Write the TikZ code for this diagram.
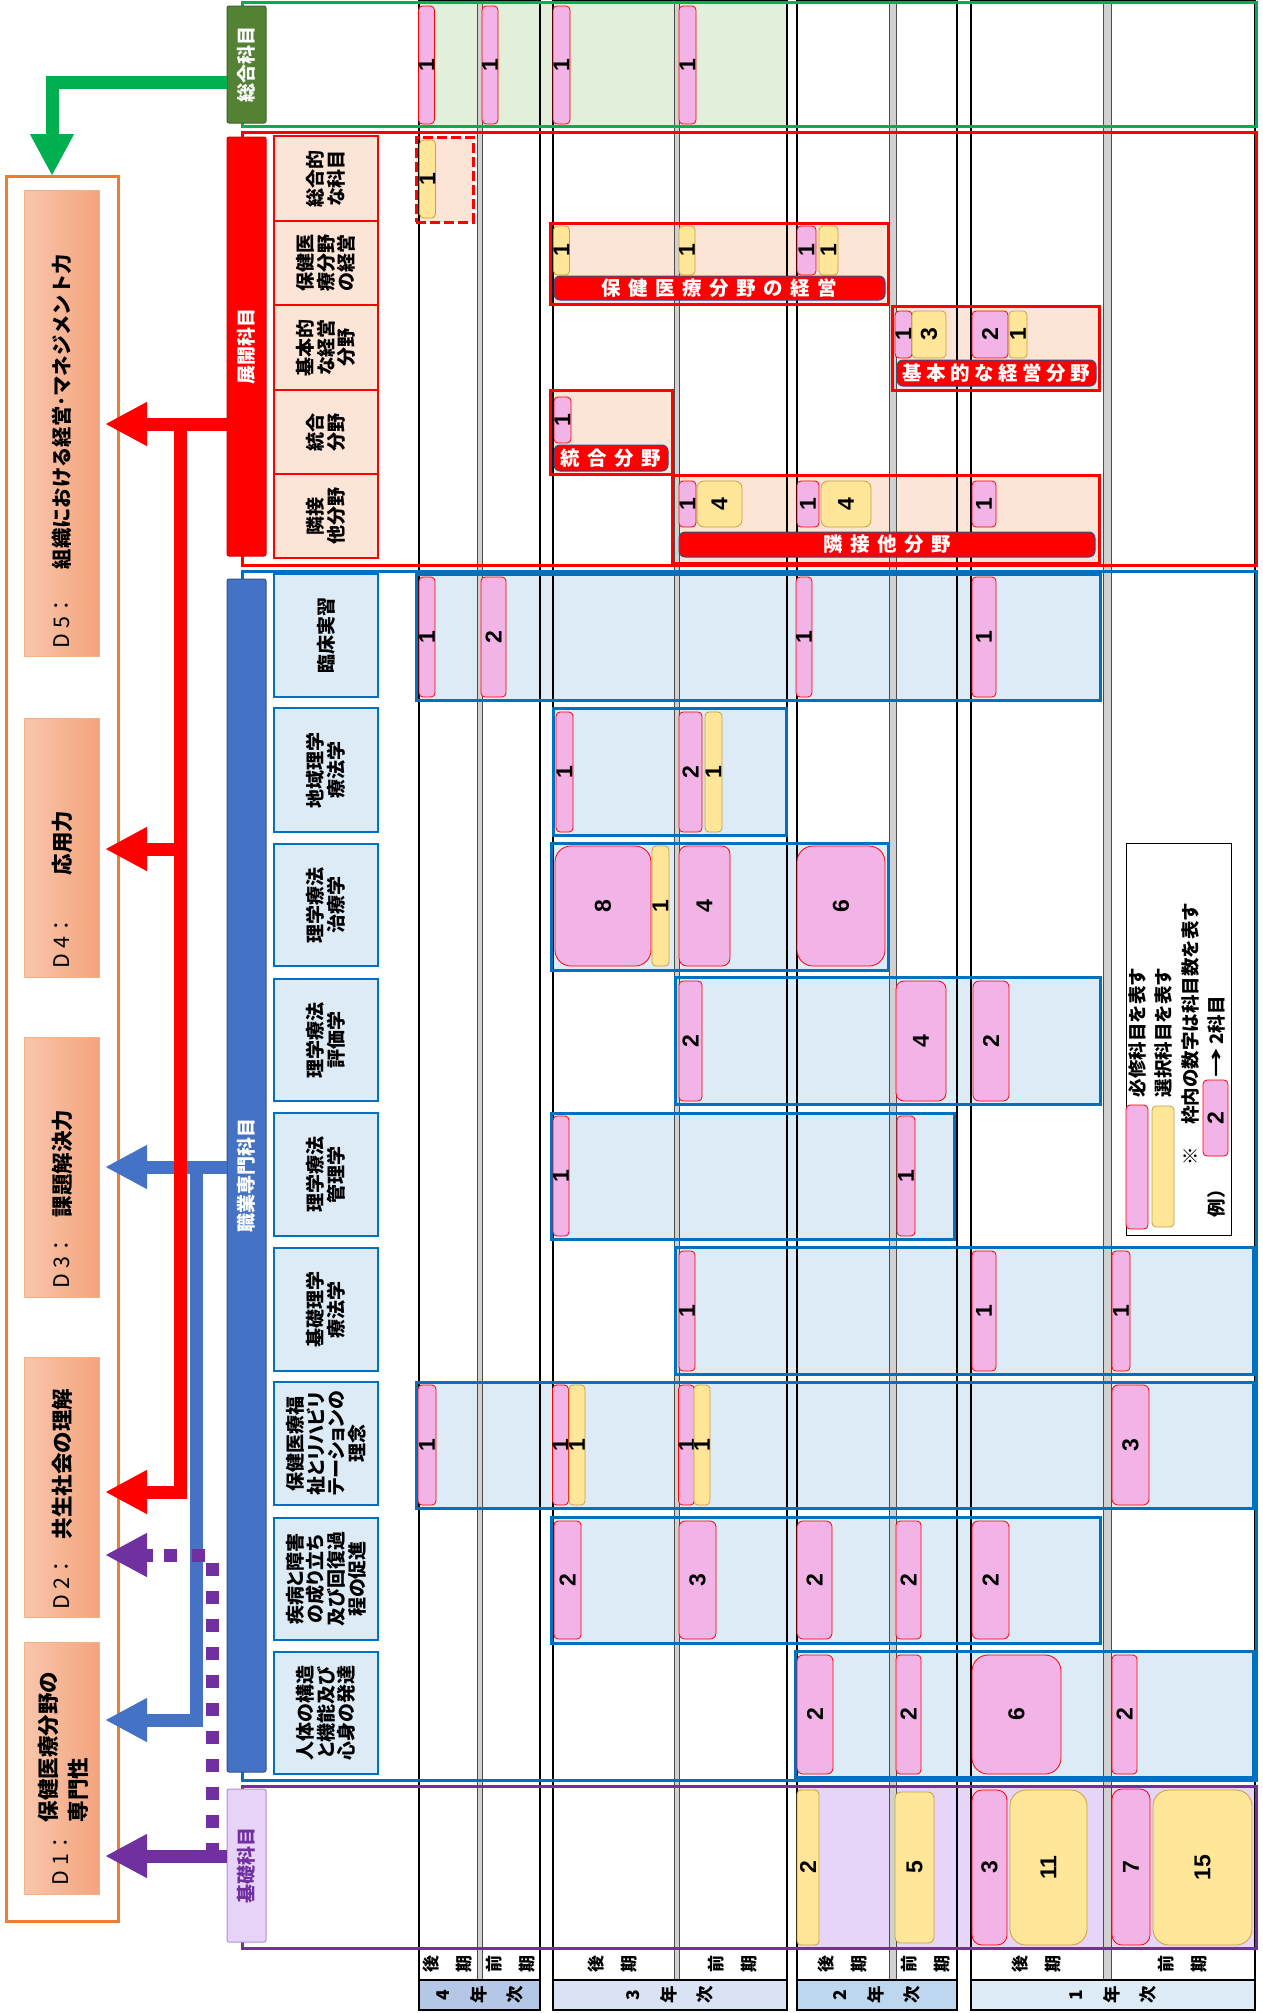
\documentclass[tikz,border=0pt]{standalone}
\usepackage{fontspec}
\setmainfont{Noto Sans CJK JP}
\newfontfamily\jpp{Noto Sans CJK JP}[RawFeature=+palt]
\newfontfamily\nf{Liberation Sans}
\usetikzlibrary{arrows.meta}
\pgfdeclarelayer{bg}\pgfdeclarelayer{grid}
\pgfsetlayers{bg,grid,main}
\definecolor{pinkc}{HTML}{F2B3E6}
\definecolor{yelc}{HTML}{FFE699}
\definecolor{yelb}{HTML}{C9A03A}
\definecolor{peach}{HTML}{FCE4D6}
\definecolor{lblue}{HTML}{DDEBF7}
\definecolor{bluel}{HTML}{0070C0}
\definecolor{lgreen}{HTML}{E2EFDA}
\definecolor{lav}{HTML}{E7D5F9}
\definecolor{ggreen}{HTML}{00B050}
\definecolor{dgreen}{HTML}{548235}
\definecolor{dgreenb}{HTML}{3E6128}
\definecolor{purp}{HTML}{7030A0}
\definecolor{bluA}{HTML}{4472C4}
\definecolor{navy}{HTML}{2F528F}
\definecolor{orangec}{HTML}{ED7D31}
\definecolor{dl}{HTML}{F8C6AC}
\definecolor{dr}{HTML}{F4A47D}
\definecolor{dborder}{HTML}{F4B183}
\definecolor{yrA}{HTML}{B4C7E7}
\definecolor{yrB}{HTML}{DAE3F3}
\definecolor{yrC}{HTML}{BDD7EE}
\definecolor{yrD}{HTML}{DDEBF7}
\definecolor{lavh}{HTML}{E6D3F7}
\definecolor{lavb}{HTML}{B18FD8}
\newcommand\numf{\nf\bfseries\fontsize{23}{23}\selectfont}
\newcommand\subf{\jpp\bfseries\fontsize{19}{20.6}\selectfont}
\newcommand\barf{\bfseries\fontsize{19.5}{19.5}\selectfont}
\newcommand\hdrf{\bfseries\fontsize{19}{19}\selectfont}
\newcommand\dtf{\fontsize{21.5}{21.5}\selectfont}
\newcommand\dtfb{\bfseries\fontsize{21.5}{30}\selectfont}
\newcommand\legf{\bfseries\fontsize{18.5}{18.5}\selectfont}
\newcommand\perf{\bfseries\fontsize{17}{33}\selectfont}
\newcommand\yrf{\bfseries\fontsize{17.5}{36}\selectfont}
\newcommand\lsp{\kern7.5pt}
\newcommand\lspb{\kern4.5pt}
\tikzset{
  pk/.style={draw=red,line width=0.8pt,fill=pinkc,rounded corners=4pt,font=\numf},
  yl/.style={draw=yelb,line width=0.8pt,fill=yelc,rounded corners=4pt,font=\numf},
  bigr/.style={rounded corners=16pt},
  grp/.style={draw=red,line width=3pt},
  grpb/.style={draw=bluel,line width=3pt},
  subr/.style={draw=red,line width=1.5pt,fill=peach,font=\subf,align=center},
  subb/.style={draw=bluel,line width=2.5pt,fill=lblue,font=\subf,align=center},
  bar/.style={draw=navy,line width=1pt,fill=red,rounded corners=6pt,text=white,font=\barf},
  hdr/.style={line width=1pt,text=white,font=\hdrf,rounded corners=2pt},
  dbox/.style={draw=dborder,line width=1pt,left color=dl,right color=dr},
  dtxt/.style={rotate=90,anchor=west,font=\dtf},
  legt/.style={rotate=90,anchor=west,font=\legf},
  arr/.style={line width=13pt,-{Triangle[width=41pt,length=42pt]}},
}
\newcommand\cb[7]{%
  \pgfmathsetmacro\cbw{#5-#3}\pgfmathsetmacro\cbh{#6-#4}%
  \node[#2,rotate=90,minimum width=\cbh pt,minimum height=\cbw pt] (#1) at ({(#3+#5)/2},{(#4+#6)/2}) {#7};}
\newcommand\hb[7]{%
  \pgfmathsetmacro\cbw{#5-#3}\pgfmathsetmacro\cbh{#6-#4}%
  \node[#2,minimum width=\cbw pt,minimum height=\cbh pt] (#1) at ({(#3+#5)/2},{(#4+#6)/2}) {#7};}
\newcommand\gb[7]{%
  \begin{pgfonlayer}{bg}\fill[#2] (#4,#5) rectangle (#6,#7);\end{pgfonlayer}%
  \hb{#1}{#3}{#4}{#5}{#6}{#7}{}}
\begin{document}
\begin{tikzpicture}[x=1pt,y=-1pt,every node/.style={inner sep=0pt,outer sep=0pt}]
\useasboundingbox (0,0) rectangle (1262,2013);
% row fills
\begin{pgfonlayer}{bg}
\fill[lgreen] (419,4) rectangle (787,125);
\fill[lav] (796,1787) rectangle (1255,1947);
\end{pgfonlayer}
% grid
\begin{pgfonlayer}{grid}
\foreach \a/\b in {419/540,553/787,797/957,971/1255}
  \draw[line width=1.6pt] (\a,1) rectangle (\b,2010);
\foreach \a/\b in {477/482,674/679,889/896,1103/1111}
  \filldraw[fill=black!18,draw=black!70,line width=0.8pt] (\a,1) rectangle (\b,1980);
\end{pgfonlayer}
% year and period cells
\hb{ya}{draw=black,line width=1.6pt,fill=yrA}{419}{1980}{540}{2010}{}
\hb{yb}{draw=black,line width=1.6pt,fill=yrB}{553}{1980}{787}{2010}{}
\hb{yc}{draw=black,line width=1.6pt,fill=yrC}{797}{1980}{957}{2010}{}
\hb{yd}{draw=black,line width=1.6pt,fill=yrD}{971}{1980}{1255}{2010}{}
\node[rotate=90,align=center,font=\yrf] (yat) at (479.5,1995) {4\\年\\次};
\node[rotate=90,align=center,font=\yrf] (ybt) at (670,1995) {3\\年\\次};
\node[rotate=90,align=center,font=\yrf] (yct) at (877,1995) {2\\年\\次};
\node[rotate=90,align=center,font=\yrf] (ydt) at (1113,1995) {1\\年\\次};
\node[rotate=90,align=center,font=\perf] (p1) at (448,1964) {後\\期};
\node[rotate=90,align=center,font=\perf] (p2) at (511,1964) {前\\期};
\node[rotate=90,align=center,font=\perf] (p3) at (613,1964) {後\\期};
\node[rotate=90,align=center,font=\perf] (p4) at (733,1964) {前\\期};
\node[rotate=90,align=center,font=\perf] (p5) at (843,1964) {後\\期};
\node[rotate=90,align=center,font=\perf] (p6) at (926,1964) {前\\期};
\node[rotate=90,align=center,font=\perf] (p7) at (1037,1964) {後\\期};
\node[rotate=90,align=center,font=\perf] (p8) at (1183,1964) {前\\期};
% category outlines
\draw[ggreen,line width=3pt] (242,2) rectangle (1256,126);
\draw[red,line width=3pt] (242,132) rectangle (1256,565);
\draw[bluel,line width=3pt] (242,571) rectangle (1256,1780);
\draw[purp,line width=3pt] (242,1786) rectangle (1256,1948);
% 総合科目 row
\cb{s1}{pk}{419}{6}{434}{124}{1}
\cb{s2}{pk}{482}{6}{498}{124}{1}
\cb{s3}{pk}{553}{6}{570}{124}{1}
\cb{s4}{pk}{679}{6}{696}{124}{1}
% 展開科目
\gb{g1}{peach}{draw=red,line width=3pt,dash pattern=on 10pt off 4pt}{416}{137}{473}{222}
\cb{t1}{yl}{420}{140}{435}{218}{1}
\gb{g2}{peach}{grp}{550}{223}{888}{304}
\cb{t2}{yl}{554}{226}{569}{275}{1}
\cb{t3}{yl}{679}{226}{695}{275}{1}
\cb{t4}{pk}{797}{226}{816}{275}{1}
\cb{t5}{yl}{819}{226}{838}{275}{1}
\hb{b1}{bar}{554}{276}{885}{300}{保\lsp 健\lsp 医\lsp 療\lsp 分\lsp 野\lsp の\lsp 経\lsp 営}
\gb{g3}{peach}{grp}{892}{306}{1099}{390}
\cb{t6}{pk}{895}{311}{912}{358}{1}
\cb{t7}{yl}{912}{311}{946}{358}{3}
\cb{t8}{pk}{972}{311}{1008}{358}{2}
\cb{t9}{yl}{1009}{311}{1027}{358}{1}
\hb{b2}{bar}{897}{360}{1096}{386}{基\lspb 本\lspb 的\lspb な\lspb 経\lspb 営\lspb 分\lspb 野}
\gb{g4}{peach}{grp}{550}{390}{672}{474}
\cb{t10}{pk}{554}{397}{571}{443}{1}
\hb{b3}{bar}{554}{445}{668}{471}{統\lsp 合\lsp 分\lsp 野}
\gb{g5}{peach}{grp}{672}{475}{1099}{563}
\cb{t11}{pk}{679}{481}{696}{527}{1}
\cb{t12}{yl,rounded corners=7pt}{697}{481}{742}{527}{4}
\cb{t13}{pk}{797}{481}{819}{527}{1}
\cb{t14}{yl,rounded corners=7pt}{821}{481}{871}{527}{4}
\cb{t15}{pk}{972}{481}{996}{527}{1}
\hb{b4}{bar}{679}{532}{1095}{557}{隣\lsp 接\lsp 他\lsp 分\lsp 野}
% 職業専門科目
\gb{k1}{lblue}{grpb}{416}{574}{1100}{700}
\cb{c1}{pk}{419}{577}{435}{697}{1}
\cb{c2}{pk}{481}{577}{506}{697}{2}
\cb{c3}{pk}{797}{577}{811}{697}{1}
\cb{c4}{pk}{972}{577}{996}{697}{1}
\gb{k2}{lblue}{grpb}{553}{708}{786}{835}
\cb{c5}{pk}{556}{712}{573}{832}{1}
\cb{c6}{pk}{679}{712}{702}{832}{2}
\cb{c7}{yl}{705}{712}{722}{832}{1}
\gb{k3}{lblue}{grpb}{551}{843}{888}{970}
\cb{c8}{pk,bigr}{555}{846}{651}{966}{8}
\cb{c9}{yl}{652}{846}{669}{966}{1}
\cb{c10}{pk,rounded corners=8pt}{679}{846}{730}{966}{4}
\cb{c11}{pk,bigr}{797}{846}{885}{966}{6}
\gb{k4}{lblue}{grpb}{675}{977}{1100}{1104}
\cb{c12}{pk}{679}{981}{702}{1101}{2}
\cb{c13}{pk,rounded corners=8pt}{896}{981}{946}{1101}{4}
\cb{c14}{pk,rounded corners=6pt}{973}{981}{1009}{1101}{2}
\gb{k5}{lblue}{grpb}{551}{1113}{954}{1239}
\cb{c15}{pk}{553}{1116}{569}{1236}{1}
\cb{c16}{pk}{897}{1116}{915}{1236}{1}
\gb{k6}{lblue}{grpb}{675}{1247}{1253}{1374}
\cb{c17}{pk}{679}{1251}{695}{1371}{1}
\cb{c18}{pk}{972}{1251}{996}{1371}{1}
\cb{c19}{pk}{1112}{1251}{1130}{1371}{1}
\gb{k7}{lblue}{grpb}{416}{1382}{1253}{1508}
\cb{c20}{pk}{418}{1385}{436}{1505}{1}
\cb{c21}{pk}{553}{1385}{568}{1505}{1}
\cb{c22}{yl}{569}{1385}{585}{1505}{1}
\cb{c23}{pk}{679}{1385}{694}{1505}{1}
\cb{c24}{yl}{694}{1385}{710}{1505}{1}
\cb{c25}{pk,rounded corners=6pt}{1112}{1385}{1149}{1505}{3}
\gb{k8}{lblue}{grpb}{551}{1517}{1100}{1643}
\cb{c26}{pk}{554}{1521}{581}{1639}{2}
\cb{c27}{pk,rounded corners=6pt}{679}{1521}{716}{1639}{3}
\cb{c28}{pk,rounded corners=6pt}{797}{1521}{832}{1639}{2}
\cb{c29}{pk}{896}{1521}{921}{1639}{2}
\cb{c30}{pk,rounded corners=6pt}{972}{1521}{1009}{1639}{2}
\gb{k9}{lblue}{grpb}{795}{1651}{1253}{1777}
\cb{c31}{pk,rounded corners=6pt}{797}{1655}{833}{1774}{2}
\cb{c32}{pk}{896}{1655}{921}{1774}{2}
\cb{c33}{pk,bigr}{972}{1655}{1061}{1774}{6}
\cb{c34}{pk}{1112}{1655}{1137}{1774}{2}
% 基礎科目 row
\cb{e1}{yl}{797}{1790}{819}{1945}{2}
\cb{e2}{yl,rounded corners=6pt}{895}{1792}{934}{1943}{5}
\cb{e3}{pk,rounded corners=10pt}{972}{1790}{1007}{1945}{3}
\cb{e4}{yl,bigr}{1010}{1790}{1087}{1945}{11}
\cb{e5}{pk,rounded corners=10pt}{1112}{1789}{1150}{1945}{7}
\cb{e6}{yl,bigr}{1153}{1790}{1252}{1945}{15}
% legend
\hb{leg}{draw=black,line width=1pt,fill=white}{1126}{843}{1231}{1235}{}
\cb{lpk}{pk}{1126}{1105}{1148}{1229}{}
\cb{lyl}{yl}{1152}{1106}{1174}{1227}{}
\node[legt] (lt1) at (1137,1097) {必修科目を表す};
\node[legt] (lt2) at (1163,1097) {選択科目を表す};
\node[legt] (lt3) at (1190,1165) {※\hspace{22pt}枠内の数字は科目数を表す};
\cb{lex}{pk}{1203}{1080}{1228}{1156}{2}
\node[legt] (lt4) at (1216,1077) {\scalebox{1.6}[1]{→}\hspace{3pt}2科目};
\node[legt] (lt5) at (1216,1217) {例）};
% sub headers
\cb{r1}{subr}{274}{136}{378}{221}{総合的\\な科目}
\cb{r2}{subr}{274}{221}{378}{305}{保健医\\療分野\\の経営}
\cb{r3}{subr}{274}{305}{378}{390}{基本的\\な経営\\分野}
\cb{r4}{subr}{274}{390}{378}{474}{統合\\分野}
\cb{r5}{subr}{274}{474}{378}{558}{隣接\\他分野}
\cb{q1}{subb}{274}{574}{378}{697}{臨床実習}
\cb{q2}{subb}{274}{708}{378}{832}{地域理学\\療法学}
\cb{q3}{subb}{274}{844}{378}{966}{理学療法\\治療学}
\cb{q4}{subb}{274}{979}{378}{1101}{理学療法\\評価学}
\cb{q5}{subb}{274}{1113}{378}{1236}{理学療法\\管理学}
\cb{q6}{subb}{274}{1248}{378}{1371}{基礎理学\\療法学}
\cb{q7}{subb}{274}{1382}{378}{1505}{保健医療福\\祉とリハビリ\\テーションの\\理念}
\cb{q8}{subb}{274}{1518}{378}{1640}{疾病と障害\\の成り立ち\\及び回復過\\程の促進}
\cb{q9}{subb}{274}{1652}{378}{1774}{人体の構造\\と機能及び\\心身の発達}
% category headers
\cb{hsogo}{hdr,fill=dgreen,draw=dgreenb}{227}{6}{266}{123}{総合科目}
\cb{htenkai}{hdr,fill=red,draw=red!85!black}{227}{137}{266}{556}{展開科目}
\cb{hshoku}{hdr,fill=bluA,draw=navy}{227}{579}{266}{1772}{職業専門科目}
\cb{hkiso}{hdr,fill=lavh,draw=lavb,text=purp}{227}{1789}{266}{1942}{基礎科目}
% D boxes
\hb{dframe}{draw=orangec,line width=3pt}{6}{176}{118}{1921}{}
\hb{d5}{dbox}{24}{190}{99}{656}{}
\hb{d4}{dbox}{24}{718}{99}{977}{}
\hb{d3}{dbox}{24}{1037}{99}{1297}{}
\hb{d2}{dbox}{24}{1357}{99}{1617}{}
\hb{d1}{dbox}{24}{1642}{99}{1894}{}
\node[dtxt] (d5a) at (62,648) {D 5：};
\node[dtxt,font=\bfseries\fontsize{20.3}{20.3}\selectfont] (d5b) at (62,569) {組織における経営･マネジメント力};
\node[dtxt] (d4a) at (62,968) {D 4：};
\node[dtxt,font=\dtfb] (d4b) at (62,875) {応用力};
\node[dtxt] (d3a) at (62,1288) {D 3：};
\node[dtxt,font=\dtfb] (d3b) at (62,1217) {課題解決力};
\node[dtxt] (d2a) at (62,1609) {D 2：};
\node[dtxt,font=\dtfb] (d2b) at (62,1539) {共生社会の理解};
\node[dtxt] (d1a) at (61,1885) {D 1：};
\node[dtxt,font=\dtfb] (d1b) at (48,1822) {保健医療分野の};
\node[dtxt,font=\dtfb] (d1c) at (78,1822) {専門性};
% connector turning points
\coordinate (tx) at (105,0);
\coordinate (gj) at (52,82);
\coordinate (rt) at (180,424);
\coordinate (rm) at (180,849);
\coordinate (rb) at (180,1492);
\coordinate (bt) at (196,1167);
\coordinate (bb) at (196,1720);
\coordinate (pt) at (212,1856);
\coordinate (pm) at (212,1555);
\coordinate (pe) at (153,1555);
% blue
\draw[arr,bluA] (hshoku.north |- bt) -- (tx |- bt);
\draw[arr,bluA] (bt) -- (bb) -- (tx |- bb);
% red
\draw[arr,red] (htenkai.north |- rt) -- (tx |- rt);
\draw[arr,red] (rt) -- (rb) -- (tx |- rb);
\draw[arr,red] (rm) -- (tx |- rm);
% purple
\draw[purp,line width=13pt,dash pattern=on 13pt off 15pt] (pt) -- (pm) -- (pe);
\draw[arr,purp] (pe) -- (tx |- pm);
\draw[arr,purp] (hkiso.north |- pt) -- (tx |- pt);
% green
\draw[arr,ggreen] (hsogo.north |- gj) -- (gj) -- (gj |- dframe.north);
\end{tikzpicture}
\end{document}
